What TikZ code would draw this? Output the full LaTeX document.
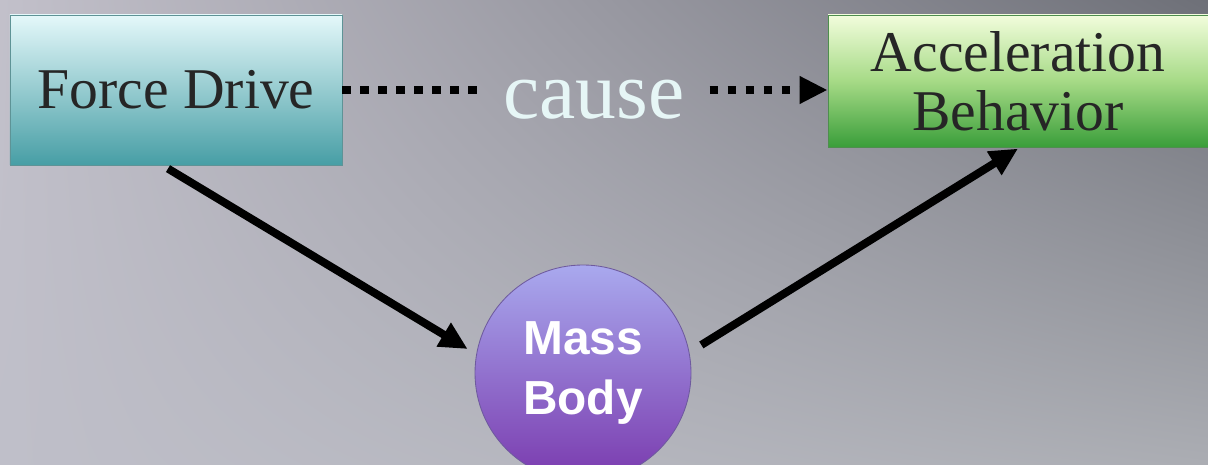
\documentclass[tikz,border=0pt]{standalone}
\usepackage{fontspec}
\setmainfont{Liberation Serif}
\newfontfamily\massfont{Liberation Sans}
\usetikzlibrary{arrows.meta,shadings}

\definecolor{bgul}{HTML}{C2C0CA}
\definecolor{bgur}{HTML}{6E7078}
\definecolor{bgll}{HTML}{BFBFC9}
\definecolor{bglr}{HTML}{ABADB3}
\definecolor{fdtop}{HTML}{E4F8FA}
\definecolor{fdbot}{HTML}{479EA5}
\definecolor{fdedge}{HTML}{5E9396}
\definecolor{actop}{HTML}{F2FDDC}
\definecolor{acmid}{HTML}{A6DA86}
\definecolor{acbot}{HTML}{3A9E3A}
\definecolor{acedge}{HTML}{4E8E4E}
\definecolor{mbtop}{HTML}{A9A9EE}
\definecolor{mbbot}{HTML}{7A3AAE}
\definecolor{mbedge}{HTML}{6E5A9E}
\definecolor{causecol}{HTML}{E6F6F6}
\definecolor{txt}{HTML}{262626}

\tikzset{
  box/.style={rectangle,line width=0.6pt,text=txt,align=center,
    font=\fontsize{41}{42}\selectfont},
  link/.style={line width=0.2cm,->},
  dots/.style={line width=0.22cm,dash pattern=on 0.22cm off 0.23cm}
}

\begin{document}
\begin{tikzpicture}[>={Triangle[length=0.7cm,width=0.65cm]}]
    \useasboundingbox (0,0) rectangle (30.2,11.6);
    \shade[upper left=bgul,upper right=bgur,lower left=bgll,lower right=bglr] (0,0) rectangle (30.2,11.6);

    \node[box,draw=fdedge,top color=fdtop,bottom color=fdbot,minimum width=8.3cm,minimum height=3.75cm] (fd) at (4.4,9.35) {Force Drive};
    \node[box,draw=acedge,top color=actop,bottom color=acbot,middle color=acmid,minimum width=9.5cm,minimum height=3.3cm] (ac) at (25.45,9.575) {Acceleration\\Behavior};
    \node[circle,draw=mbedge,line width=0.6pt,top color=mbtop,bottom color=mbbot,minimum size=5.4cm,text=white,align=center,
        font=\massfont\bfseries\fontsize{34}{42.5}\selectfont] (mb) at (14.575,2.275) {Mass\\Body};
    \node[text=causecol,inner xsep=0.62cm,inner ysep=0pt,font=\fontsize{58}{60}\selectfont] (cs) at (14.85,9.1) {cause};

    \draw[dots] (fd.east) -- (fd.east -| cs.west);
    \draw[dots,->] (cs.east |- fd.east) -- (ac.west |- fd.east);
    \draw[link,shorten >=0.25cm] ([xshift=-0.2cm,yshift=-0.08cm]fd.south) -- (mb.170);
    \draw[link,shorten <=0.35cm] (mb.11) -- ([yshift=-0.03cm]ac.south);
\end{tikzpicture}
\end{document}
